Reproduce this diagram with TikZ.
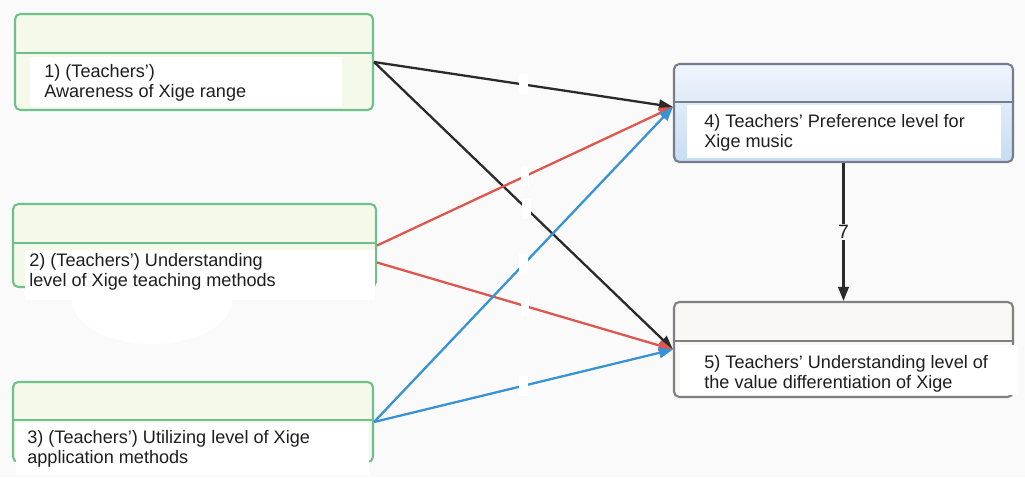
\documentclass[tikz,border=0pt]{standalone}
\usepackage{fontspec}
\setmainfont{Liberation Sans}
\usetikzlibrary{calc,arrows.meta}

\definecolor{boxgreen}{RGB}{112,192,142}
\definecolor{greenfill}{RGB}{245,249,233}
\definecolor{boxblue}{RGB}{118,126,140}
\definecolor{boxgray}{RGB}{128,128,128}
\definecolor{grayfill}{RGB}{250,248,245}
\definecolor{linered}{RGB}{222,86,76}
\definecolor{lineblue}{RGB}{56,146,214}
\definecolor{lineblack}{RGB}{42,42,42}
\definecolor{paper}{RGB}{250,250,250}
\definecolor{ink}{RGB}{30,30,30}

\begin{document}
\begin{tikzpicture}[x=0.02cm, y=-0.02cm,
  greenbox/.style={draw=boxgreen, fill=greenfill, line width=1.2pt, rounded corners=3pt, inner sep=0pt},
  bluebox/.style={draw=boxblue, top color={rgb,255:red,240;green,245;blue,252}, bottom color={rgb,255:red,198;green,221;blue,243}, line width=1.2pt, rounded corners=3pt, inner sep=0pt},
  graybox/.style={draw=boxgray, fill=grayfill, line width=1.2pt, rounded corners=3pt, inner sep=0pt},
  itemtext/.style={anchor=north west, align=left, inner sep=0pt, text=ink, font=\fontsize{10.3}{11.4}\selectfont},
  link/.style={line width=1.3pt, -{Triangle[length=8pt,width=6pt]}},
  blank/.style={fill=white, inner sep=0pt, minimum width=0.17cm, minimum height=0.4cm}
]
  \fill[paper] (0,0) rectangle (1025,477);

  \node (b1) [greenbox, minimum width=7.16cm, minimum height=1.92cm] at (194,62) {};
  \node (b2) [greenbox, minimum width=7.26cm, minimum height=1.66cm] at (194.5,245.5) {};
  \node (b3) [greenbox, minimum width=7.2cm, minimum height=1.6cm] at (193,422) {};
  \node (b4) [bluebox, minimum width=6.78cm, minimum height=1.96cm] at (843.5,113) {};
  \node (b5) [graybox, minimum width=6.78cm, minimum height=1.9cm] at (843.5,349.5) {};

  \fill[white] (30,57) rectangle (342,107);
  \fill[white] (152,300) ellipse [x radius=80, y radius=44];
  \fill[white] (25,250) rectangle (375,300);
  \fill[white] (16,423) rectangle (369,475);
  \fill[white] (687,105) rectangle (1001,158);
  \fill[white] (680,345) rectangle (1018,395);

  \draw[boxgreen, line width=1.2pt] ($(b1.north west)+(0,40)$) -- ($(b1.north east)+(0,40)$);
  \draw[boxgreen, line width=1.2pt] ($(b2.north west)+(0,40)$) -- ($(b2.north east)+(0,40)$);
  \draw[boxgreen, line width=1.2pt] ($(b3.north west)+(0,39)$) -- ($(b3.north east)+(0,39)$);
  \draw[boxblue, line width=1.2pt] ($(b4.north west)+(0,39)$) -- ($(b4.north east)+(0,39)$);
  \draw[boxgray, line width=1.2pt] ($(b5.north west)+(0,40)$) -- ($(b5.north east)+(0,40)$);

  \node (t1) [itemtext] at (44,62) {\rule{0pt}{8.5pt}1) (Teachers’)\\Awareness of Xige range};
  \node (t2) [itemtext] at (29,251) {\rule{0pt}{8.5pt}2) (Teachers’) Understanding\\level of Xige teaching methods};
  \node (t3) [itemtext] at (27,428) {\rule{0pt}{8.5pt}3) (Teachers’) Utilizing level of Xige\\application methods};
  \node (t4) [itemtext] at (704,112) {\rule{0pt}{8.5pt}4) Teachers’ Preference level for\\Xige music};
  \node (t5) [itemtext] at (704,353) {\rule{0pt}{8.5pt}5) Teachers’ Understanding level of\\the value differentiation of Xige};

  \coordinate (in4) at ($(b4.north west)+(0,44)$);
  \coordinate (out2) at ($(b2.east)+(0,17)$);

  \draw[link, lineblack] (b1.east) -- node[blank] {} (in4);
  \draw[link, lineblack] (b1.east) -- node[blank, pos=0.51] {} (b5.west);
  \draw[link, linered] (b2.east) -- node[blank] {} (in4);
  \draw[link, linered] (out2) -- node[blank] {} (b5.west);
  \draw[link, lineblue] (b3.east) -- node[blank] {} (in4);
  \draw[link, lineblue] (b3.east) -- node[blank] {} (b5.west);
  \draw[link, lineblack] (b4.south) -- node[fill=paper, inner sep=1pt, text=ink, font=\fontsize{11}{12}\selectfont] {7} (b5.north);
\end{tikzpicture}
\end{document}
